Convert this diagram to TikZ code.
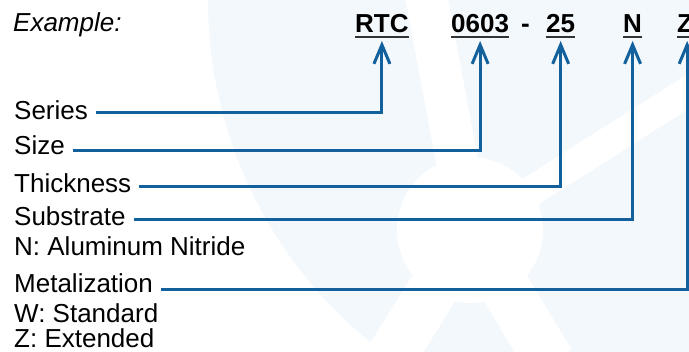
\documentclass[tikz,border=0pt]{standalone}
\usepackage{fontspec}
\setmainfont{Liberation Sans}
\usetikzlibrary{arrows.meta,calc}
\definecolor{leadblue}{RGB}{18,97,156}
\definecolor{wmark}{RGB}{243,248,252}

\begin{document}
\begin{tikzpicture}[x=1pt,y=-1pt,
  lbl/.style={anchor=base west,inner sep=0pt,font=\fontsize{26}{30}\selectfont},
  code/.style={anchor=base west,inner sep=0pt,font=\fontsize{26}{30}\selectfont\bfseries},
  lead/.style={draw=leadblue,line width=3pt,-{Straight Barb[length=19pt,width=16pt]}},
  uline/.style={draw=black!80,line width=2pt}]
\useasboundingbox (0,0) rectangle (689,352);
% Watermark
\begin{scope}
\clip (0,0) rectangle (689,352);
\fill[wmark] (650,0) circle (442);
\draw[white,line width=42pt] (470,230) -- (425,-10);
\draw[white,line width=30pt] (470,230) -- (700,84);
\draw[white,line width=50pt] (470,230) -- (388,362);
\draw[white,line width=50pt] (470,230) -- (550,362);
\fill[white] (470,230) circle (73);
\end{scope}

% Part number
\node[lbl,font=\fontsize{26}{30}\selectfont\itshape] (example) at (13,32) {Example:};
\node[code] (rtc) at (355,33) {RTC};
\node[code] (size) at (451,33) {0603};
\node[code] (dash) at (521,33) {-};
\node[code] (thick) at (546,33) {25};
\node[code] (subst) at (623,33) {N};
\node[code] (metal) at (677,33) {Z};
\foreach \c in {rtc,size,thick,subst,metal}
  \draw[uline] ([yshift=-4.5pt]\c.base west) -- ([yshift=-4.5pt]\c.base east);
\coordinate (tip) at (0,41);

% Fields
\node[lbl] (series) at (14,120) {Series};
\node[lbl] (sizelbl) at (14,155) {Size};
\node[lbl] (thicklbl) at (14,193) {Thickness};
\node[lbl] (subslbl) at (14,226) {Substrate};
\node[lbl] (aln) at (14,256) {N: Aluminum Nitride};
\node[lbl] (metallbl) at (14,293) {Metalization};
\node[lbl] (std) at (14,323) {W: Standard};
\node[lbl] (ext) at (14,348) {Z: Extended};

% Leaders
\draw[lead] ([xshift=8pt,yshift=-2pt]series.east) -| (rtc.south |- tip);
\draw[lead] ([xshift=8pt,yshift=-5pt]sizelbl.east) -| (size.south |- tip);
\draw[lead] ([xshift=8pt,yshift=-3pt]thicklbl.east) -| (thick.south |- tip);
\draw[lead] ([xshift=8pt,yshift=-3pt]subslbl.east) -| (subst.south |- tip);
\draw[lead] ([xshift=8pt,yshift=-6pt]metallbl.east) -| ([xshift=2pt]metal.south |- tip);
\end{tikzpicture}
\end{document}
